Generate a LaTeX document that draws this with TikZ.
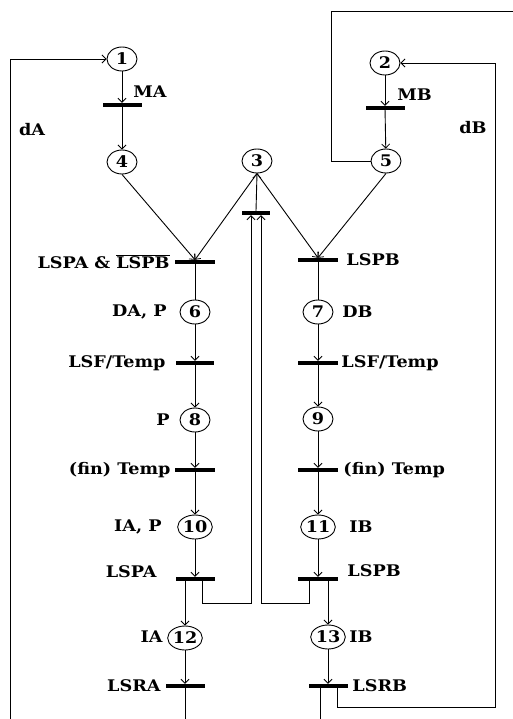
\documentclass[tikz,border=0pt]{standalone}
\usepackage{fontspec}
\setmainfont[FakeStretch=1.1]{DejaVu Serif}
\usetikzlibrary{arrows.meta,shapes.geometric}
\begin{document}
\begin{tikzpicture}[x=1pt,y=-1pt,
  line width=0.9pt,
  >={Straight Barb[length=4pt,width=8pt,line width=0.8pt]},
  place/.style={ellipse,draw,line width=0.9pt,minimum width=30pt,minimum height=24pt,inner sep=0pt,font=\fontsize{16}{18}\selectfont\bfseries},
  bar/.style={rectangle,fill=black,inner sep=0pt,minimum height=3.5pt,minimum width=40pt},
  lbl/.style={inner sep=0pt,font=\fontsize{16}{18}\selectfont\bfseries}]
\useasboundingbox (0,0) rectangle (513,719);
% places
\node[place] (p1) at (122,59) {1};
\node[place] (p2) at (385,63) {2};
\node[place] (p3) at (257,161) {3};
\node[place] (p4) at (122,162) {4};
\node[place] (p5) at (386,161) {5};
\node[place] (p6) at (195,312) {6};
\node[place] (p7) at (318,312) {7};
\node[place] (p8) at (195,420) {8};
\node[place] (p9) at (318,419) {9};
\node[place] (p10) at (195,527) {10};
\node[place] (p11) at (318,527) {11};
\node[place] (p12) at (185,638) {12};
\node[place] (p13) at (328,637) {13};
% transitions
\node[bar,minimum width=39pt] (tMA) at (122,105) {};
\node[bar,minimum width=39pt] (tMB) at (385,108) {};
\node[bar,minimum width=28pt] (t3) at (256,213) {};
\node[bar] (tL) at (195,262) {};
\node[bar] (tR) at (318,260) {};
\node[bar,minimum width=38pt] (tLSFL) at (195,363) {};
\node[bar] (tLSFR) at (318,363) {};
\node[bar] (tfinL) at (195,470) {};
\node[bar] (tfinR) at (318,470) {};
\node[bar,minimum width=39pt] (tLSPA) at (195,579) {};
\node[bar] (tLSPB) at (318,579) {};
\node[bar,minimum width=39pt] (tLSRA) at (185,686) {};
\node[bar,minimum width=39pt] (tLSRB) at (328,686) {};
% coordinates
\coordinate (cAbot) at (10,719);
\coordinate (cAtop) at (10,59);
\coordinate (cTopL) at (331,11);
\coordinate (cTopR) at (513,11);
\coordinate (cRA) at (185,719);
\coordinate (cRB) at (320,719);
\coordinate (cBcorner) at (495,707);
\coordinate (cBtop) at (495,63);
% labels
\node[lbl,anchor=west] (lMA) at (133,92) {MA};
\node[lbl,anchor=west] (lMB) at (397,95) {MB};
\node[lbl] (ldA) at (32,130) {dA};
\node[lbl] (ldB) at (473,128) {dB};
\node[lbl,anchor=east] (lL) at (170,262) {LSPA \& $\overline{\hbox{LSPB}}$};
\node[lbl,anchor=west] (lR) at (346,260) {LSPB};
\node[lbl,anchor=east] (l6) at (167,312) {DA, P};
\node[lbl,anchor=west] (l7) at (342,312) {DB};
\node[lbl,anchor=east] (lLSFL) at (166,363) {LSF/Temp};
\node[lbl,anchor=west] (lLSFR) at (341,363) {LSF/Temp};
\node[lbl,anchor=east] (l8) at (170,420) {P};
\node[lbl,anchor=east] (lfinL) at (171,470) {(fin) Temp};
\node[lbl,anchor=west] (lfinR) at (343,470) {(fin) Temp};
\node[lbl,anchor=east] (l10) at (162,527) {IA, P};
\node[lbl,anchor=west] (l11) at (349,527) {IB};
\node[lbl,anchor=east] (lLSPA) at (157,572) {LSPA};
\node[lbl,anchor=west] (lLSPB) at (347,571) {LSPB};
\node[lbl,anchor=east] (l12) at (163,637) {IA};
\node[lbl,anchor=west] (l13) at (349,637) {IB};
\node[lbl,anchor=east] (lLSRA) at (161,686) {LSRA};
\node[lbl,anchor=west] (lLSRB) at (352,686) {LSRB};
% arcs
\draw[->] (p1) -- (tMA);
\draw[->] (tMA) -- (p4);
\draw[->] (p2) -- (tMB);
\draw[->] (tMB) -- (p5);
\draw[->] (p4.south) -- (tL.north);
\draw[->] (p3.south) -- (tL.north);
\draw[->] (p3.south) -- (tR.north);
\draw[->] (p5.south) -- (tR.north);
\draw[->] (t3.north) -- (p3.south);
\draw (tL) -- (p6);
\draw (tR) -- (p7);
\draw[->] (p6) -- (tLSFL);
\draw[->] (p7) -- (tLSFR);
\draw[->] (tLSFL) -- (p8);
\draw[->] (tLSFR) -- (p9);
\draw[->] (p8) -- (tfinL);
\draw[->] (p9) -- (tfinR);
\draw[->] (tfinL) -- (p10);
\draw[->] (tfinR) -- (p11);
\draw[->] (p10) -- (tLSPA);
\draw[->] (p11) -- (tLSPB);
\draw[->] (tLSPA.south -| p12) -- (p12);
\draw[->] (tLSPB.south -| p13) -- (p13);
\draw[->] (p12) -- (tLSRA);
\draw[->] (p13) -- (tLSRB);
\draw[->] ([xshift=7pt]tLSPA.south) |- (251,603) -- ([xshift=-5pt]t3.south);
\draw[->] ([xshift=-9pt]tLSPB.south) |- (261,603) -- ([xshift=5pt]t3.south);
\draw (tLSRA.south) -- (cRA);
\draw (tLSRB.south -| cRB) -- (cRB);
\draw[->] ([xshift=9pt]tLSRB.south) |- (cBcorner) -- (cBtop) -- (p2.east);
\draw[->] (cAbot) -- (cAtop) -- (p1.west);
\draw (p5.west) -| (cTopL) -- (cTopR);
\end{tikzpicture}
\end{document}
